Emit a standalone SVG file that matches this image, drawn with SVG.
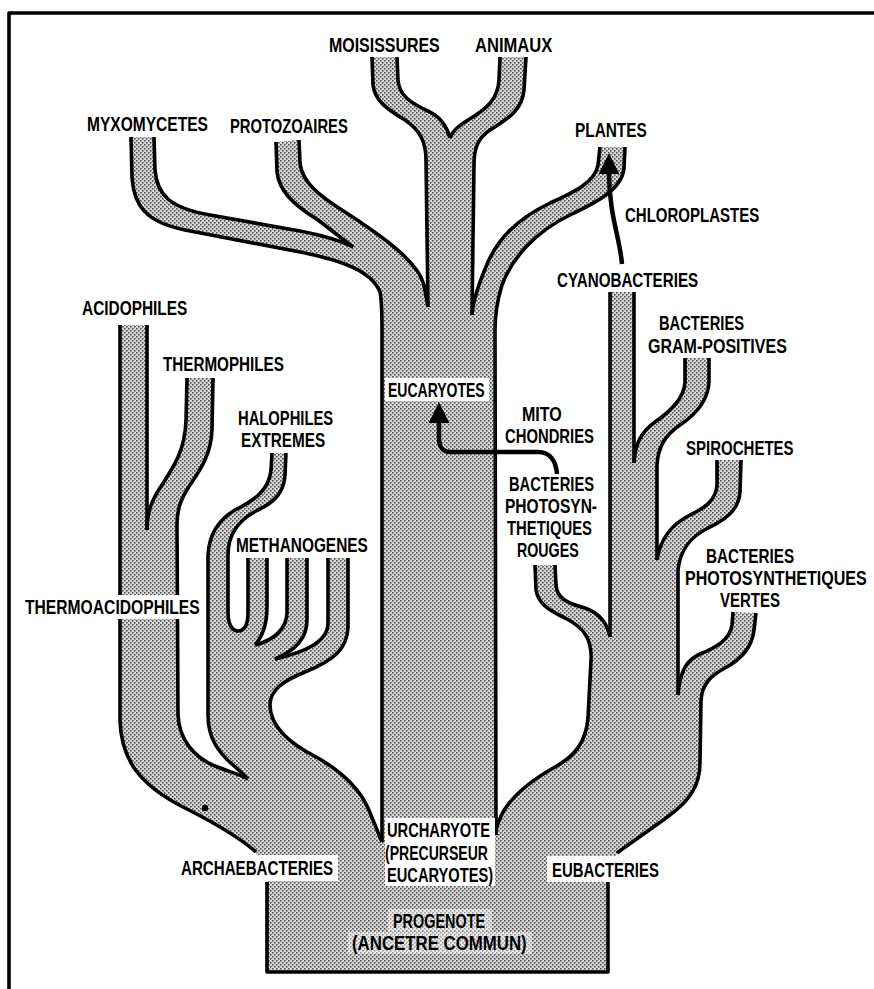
<svg xmlns="http://www.w3.org/2000/svg" width="874" height="989" viewBox="0 0 874 989">
<defs>
<pattern id="ht" width="4" height="4" patternUnits="userSpaceOnUse">
<rect width="4" height="4" fill="#d6d6d6"/>
<rect width="1.6" height="1.6" fill="#555"/>
<rect x="2" y="2" width="1.6" height="1.6" fill="#555"/>
</pattern>
<marker id="ah" viewBox="0 0 10 10" refX="1" refY="5" markerWidth="4.6" markerHeight="4.6" orient="auto" markerUnits="strokeWidth">
<path d="M0,0 L10,5 L0,10 Z" fill="#000"/>
</marker>
<style>
.fill{fill:url(#ht);stroke:none}
.ol{fill:none;stroke:#000;stroke-width:3.6;stroke-linejoin:round;stroke-linecap:butt}
.arr{fill:none;stroke:#000;stroke-width:4.5;marker-end:url(#ah)}
.bg{fill:#fff}
.lbg{fill:#fff;fill-opacity:0.45}
.t{font-family:"Liberation Sans",Arial,sans-serif;font-weight:bold;font-size:19.5px;fill:#000}
</style>
</defs>
<rect width="874" height="989" fill="#fff"/>
<path class="ol" d="M9,989 L9,13 L874,13"/>

<g id="tree-fill">
<path class="fill" d="M131,137 L132,178 C134,205 145,222 185,230 L300,252 C345,261 372,272 380,292 C382,302 382,315 382,330 L428,330 L428,307 L424,285 C418,262 385,238 345,212 C318,195 302,182 300,163 L299,140 L276,142 L277,172 C279,190 292,204 318,220 L353,247 C342,241 325,236 300,231 L210,215 C170,208 157,195 155,170 L154,137 Z"/>
<path class="fill" d="M372,57 L373,85 C375,100 385,108 405,120 C420,130 426,142 426,160 L428,307 L428,340 L495,340 L495,330 C495,312 498,298 502,285 C512,258 535,232 570,215 C595,203 622,190 624,168 L625,147 L600,147 L598,165 C595,182 575,192 550,203 C515,220 498,240 488,262 C478,285 473,300 472,315 L474,165 C474,148 478,138 490,130 C505,120 522,112 524,90 L526,57 L500,57 L499,80 C498,100 485,110 468,120 C458,126 452,131 450,138 C447,127 442,118 430,112 C410,103 399,95 398,80 L397,57 Z"/>
<rect class="fill" x="382" y="320" width="114" height="652"/>
<path class="fill" d="M120,325 L120,720 C121,760 140,785 183,807 C215,823 240,838 256,852 L267,882 L267,972 L382,972 L382,842 C379,835 374,822 368,808 C360,790 342,772 318,758 C282,740 270,722 270,705 C270,690 283,681 305,672 C335,660 347,648 348,628 L348,558 L328,558 L328,623 C328,642 305,652 275,659 C292,652 307,640 307,620 L307,558 L287,558 L287,612 C287,628 275,640 255,645 C262,637 267,625 267,607 L267,558 L248,558 L248,612 C248,626 244,631 238,631 C233,631 228,626 228,612 L228,555 C228,535 238,520 258,510 C275,502 284,492 285,475 L286,453 L272,453 L271,470 C269,490 255,500 235,510 C218,520 209,535 208,555 L208,715 C208,738 218,752 233,765 C240,771 245,776 248,779 C242,775 230,772 215,766 C195,758 179,740 178,715 L177,525 C177,510 180,500 190,485 C200,470 211,455 212,430 L213,378 L187,378 L186,420 C185,450 175,465 160,488 C150,503 147,515 147,530 L147,325 Z"/>
<path class="fill" d="M496,972 L608,972 L608,882 L617,853 C630,843 650,830 670,815 C690,800 700,785 700,763 L701,700 C702,685 710,676 725,668 C740,660 752,648 754,630 L756,613 L733,612 L732,625 C730,640 715,648 700,654 C687,660 680,670 678,695 L678,570 C680,552 688,538 708,528 C725,520 739,510 740,492 L741,460 L717,460 L717,485 C716,500 705,508 690,515 C670,525 660,540 657,560 L657,465 C658,448 664,436 680,425 C695,415 708,402 709,382 L709,358 L685,358 L685,382 C684,398 672,410 655,422 C640,433 635,445 634,463 L634,292 L610,292 L610,637 C608,625 600,613 585,608 C566,603 557,598 556,585 L555,565 L535,565 L536,590 C538,603 548,610 565,618 C585,628 592,640 591,660 L588,718 C586,742 575,756 555,767 C530,781 512,797 503,812 C499,820 497,826 496,830 Z"/>
</g>

<g id="tree-outline">
<path class="ol" d="M131,137 L132,178 C134,205 145,222 185,230 L300,252 C345,261 372,272 380,292 C382,302 382,315 382,330 L382,842"/>
<path class="ol" d="M154,137 L155,170 C157,195 170,208 210,215 L300,231 C325,236 342,241 353,247"/>
<path class="ol" d="M276,142 L277,172 C279,190 292,204 318,220 L353,247"/>
<path class="ol" d="M299,140 L300,163 C302,182 318,195 345,212 C385,238 418,262 424,285 L428,307"/>
<path class="ol" d="M372,57 L373,85 C375,100 385,108 405,120 C420,130 426,142 426,160 L428,307"/>
<path class="ol" d="M397,57 L398,80 C399,95 410,103 430,112 C442,118 447,127 450,138"/>
<path class="ol" d="M500,57 L499,80 C498,100 485,110 468,120 C458,126 452,131 450,138"/>
<path class="ol" d="M526,57 L524,90 C522,112 505,120 490,130 C478,138 474,148 474,165 L472,315"/>
<path class="ol" d="M600,147 L598,165 C595,182 575,192 550,203 C515,220 498,240 488,262 C478,285 473,300 472,315"/>
<path class="ol" d="M625,147 L624,168 C622,190 595,203 570,215 C535,232 512,258 502,285 C498,298 495,312 495,330 L496,835"/>

<path class="ol" d="M120,325 L120,720 C121,760 140,785 183,807 C215,823 240,838 256,852"/>
<path class="ol" d="M147,325 L147,530"/>
<path class="ol" d="M187,378 L186,420 C185,450 175,465 160,488 C150,503 147,515 147,530"/>
<path class="ol" d="M213,378 L212,430 C211,455 200,470 190,485 C180,500 177,510 177,525 L178,715 C179,740 195,758 215,766 C230,772 242,775 248,779"/>
<path class="ol" d="M272,453 L271,470 C269,490 255,500 235,510 C218,520 209,535 208,555 L208,715 C208,738 218,752 233,765 C240,771 245,776 248,779"/>
<path class="ol" d="M286,453 L285,475 C284,492 275,502 258,510 C238,520 228,535 228,555 L228,612 C228,626 233,631 238,631 C244,631 248,626 248,612 L248,558"/>
<path class="ol" d="M267,558 L267,607 C267,625 262,637 255,645"/>
<path class="ol" d="M287,558 L287,612 C287,628 275,640 255,645"/>
<path class="ol" d="M307,558 L307,620 C307,640 292,652 275,659"/>
<path class="ol" d="M328,558 L328,623 C328,642 305,652 275,659"/>
<path class="ol" d="M348,558 L348,628 C347,648 335,660 305,672 C283,681 270,690 270,705 C270,722 282,740 318,758 C342,772 360,790 368,808 C374,822 379,835 382,842"/>

<path class="ol" d="M610,292 L610,637"/>
<path class="ol" d="M634,292 L634,463"/>
<path class="ol" d="M685,358 L685,382 C684,398 672,410 655,422 C640,433 635,445 634,463"/>
<path class="ol" d="M709,358 L709,382 C708,402 695,415 680,425 C664,436 658,448 657,465 L657,560"/>
<path class="ol" d="M717,460 L717,485 C716,500 705,508 690,515 C670,525 660,540 657,560"/>
<path class="ol" d="M741,460 L740,492 C739,510 725,520 708,528 C688,538 680,552 678,570 L678,695"/>
<path class="ol" d="M733,612 L732,625 C730,640 715,648 700,654 C687,660 680,670 678,695"/>
<path class="ol" d="M756,613 L754,630 C752,648 740,660 725,668 C710,676 702,685 701,700 L700,763 C700,785 690,800 670,815 C650,830 630,843 617,853"/>
<path class="ol" d="M555,565 L556,585 C557,598 566,603 585,608 C600,613 608,625 610,637"/>
<path class="ol" d="M535,565 L536,590 C538,603 548,610 565,618 C585,628 592,640 591,660 L588,718 C586,742 575,756 555,767 C530,781 512,797 503,812 C499,820 497,826 496,830"/>
<path class="ol" d="M267,882 L267,972 L608,972 L608,882"/>
<circle cx="205" cy="808" r="3.2" fill="#000"/>
</g>

<g id="connectors">
<path id="chloroplastes-arrow" class="arr" d="M622,264 C620,238 609,215 609,172"/>
<path id="mitochondries-arrow" class="arr" d="M557,474 C556,461 550,452 538,452 L450,452 C443,452 439,447 439,438 L439,421"/>
</g>

<g id="label-backgrounds">
<rect class="bg" x="22" y="595" width="181" height="24"/>
<rect class="bg" x="385" y="378" width="104" height="23"/>
<rect class="bg" x="177" y="855" width="161" height="26"/>
<rect class="bg" x="385" y="818" width="110" height="68"/>
<rect class="bg" x="547" y="856" width="118" height="26"/>
<rect class="lbg" x="388" y="909" width="104" height="22"/>
<rect class="lbg" x="348" y="932" width="184" height="22"/>
</g>

<g id="labels">
<g id="n-moisissures"><text class="t" transform="translate(329,52) scale(0.78,1)" textLength="142" lengthAdjust="spacingAndGlyphs">MOISISSURES</text></g>
<g id="n-animaux"><text class="t" transform="translate(475,52) scale(0.78,1)" textLength="99" lengthAdjust="spacingAndGlyphs">ANIMAUX</text></g>
<g id="n-myxomycetes"><text class="t" transform="translate(87,131) scale(0.78,1)" textLength="155" lengthAdjust="spacingAndGlyphs">MYXOMYCETES</text></g>
<g id="n-protozoaires"><text class="t" transform="translate(230,133) scale(0.78,1)" textLength="151" lengthAdjust="spacingAndGlyphs">PROTOZOAIRES</text></g>
<g id="n-plantes"><text class="t" transform="translate(575,137) scale(0.78,1)" textLength="92" lengthAdjust="spacingAndGlyphs">PLANTES</text></g>
<g id="n-chloroplastes"><text class="t" transform="translate(625,222) scale(0.78,1)" textLength="172" lengthAdjust="spacingAndGlyphs">CHLOROPLASTES</text></g>
<g id="n-cyanobacteries"><text class="t" transform="translate(557,287) scale(0.78,1)" textLength="181" lengthAdjust="spacingAndGlyphs">CYANOBACTERIES</text></g>
<g id="n-acidophiles"><text class="t" transform="translate(82,315) scale(0.78,1)" textLength="135" lengthAdjust="spacingAndGlyphs">ACIDOPHILES</text></g>
<g id="n-gram"><text class="t" transform="translate(659,330) scale(0.78,1)" textLength="109" lengthAdjust="spacingAndGlyphs">BACTERIES</text><text class="t" transform="translate(648,353) scale(0.78,1)" textLength="178" lengthAdjust="spacingAndGlyphs">GRAM-POSITIVES</text></g>
<g id="n-thermophiles"><text class="t" transform="translate(163,371) scale(0.78,1)" textLength="155" lengthAdjust="spacingAndGlyphs">THERMOPHILES</text></g>
<g id="n-eucaryotes"><text class="t" transform="translate(388,397) scale(0.78,1)" textLength="124" lengthAdjust="spacingAndGlyphs">EUCARYOTES</text></g>
<g id="n-halophiles"><text class="t" transform="translate(238,425) scale(0.78,1)" textLength="122" lengthAdjust="spacingAndGlyphs">HALOPHILES</text><text class="t" transform="translate(241,447) scale(0.78,1)" textLength="108" lengthAdjust="spacingAndGlyphs">EXTREMES</text></g>
<g id="n-mito"><text class="t" transform="translate(522,421) scale(0.78,1)" textLength="51" lengthAdjust="spacingAndGlyphs">MITO</text><text class="t" transform="translate(505,443) scale(0.78,1)" textLength="114" lengthAdjust="spacingAndGlyphs">CHONDRIES</text></g>
<g id="n-spirochetes"><text class="t" transform="translate(686,455) scale(0.78,1)" textLength="138" lengthAdjust="spacingAndGlyphs">SPIROCHETES</text></g>
<g id="n-rouges"><text class="t" transform="translate(509,491) scale(0.78,1)" textLength="109" lengthAdjust="spacingAndGlyphs">BACTERIES</text><text class="t" transform="translate(505,513) scale(0.78,1)" textLength="118" lengthAdjust="spacingAndGlyphs">PHOTOSYN-</text><text class="t" transform="translate(507,535) scale(0.78,1)" textLength="109" lengthAdjust="spacingAndGlyphs">THETIQUES</text><text class="t" transform="translate(517,557) scale(0.78,1)" textLength="79" lengthAdjust="spacingAndGlyphs">ROUGES</text></g>
<g id="n-methanogenes"><text class="t" transform="translate(236,552) scale(0.78,1)" textLength="169" lengthAdjust="spacingAndGlyphs">METHANOGENES</text></g>
<g id="n-vertes"><text class="t" transform="translate(706,563) scale(0.78,1)" textLength="113" lengthAdjust="spacingAndGlyphs">BACTERIES</text><text class="t" transform="translate(685,585) scale(0.78,1)" textLength="233" lengthAdjust="spacingAndGlyphs">PHOTOSYNTHETIQUES</text><text class="t" transform="translate(720,607) scale(0.78,1)" textLength="77" lengthAdjust="spacingAndGlyphs">VERTES</text></g>
<g id="n-thermoacidophiles"><text class="t" transform="translate(25,614) scale(0.78,1)" textLength="224" lengthAdjust="spacingAndGlyphs">THERMOACIDOPHILES</text></g>
<g id="n-archaebacteries"><text class="t" transform="translate(181,875) scale(0.78,1)" textLength="195" lengthAdjust="spacingAndGlyphs">ARCHAEBACTERIES</text></g>
<g id="n-urcharyote"><text class="t" transform="translate(387,837) scale(0.78,1)" textLength="132" lengthAdjust="spacingAndGlyphs">URCHARYOTE</text><text class="t" transform="translate(385,860) scale(0.78,1)" textLength="132" lengthAdjust="spacingAndGlyphs">(PRECURSEUR</text><text class="t" transform="translate(387,882) scale(0.78,1)" textLength="136" lengthAdjust="spacingAndGlyphs">EUCARYOTES)</text></g>
<g id="n-eubacteries"><text class="t" transform="translate(552,877) scale(0.78,1)" textLength="137" lengthAdjust="spacingAndGlyphs">EUBACTERIES</text></g>
<g id="n-progenote"><text class="t" transform="translate(393,928) scale(0.78,1)" textLength="118" lengthAdjust="spacingAndGlyphs">PROGENOTE</text><text class="t" transform="translate(352,950) scale(0.78,1)" textLength="224" lengthAdjust="spacingAndGlyphs">(ANCETRE COMMUN)</text></g>
</g>
</svg>
